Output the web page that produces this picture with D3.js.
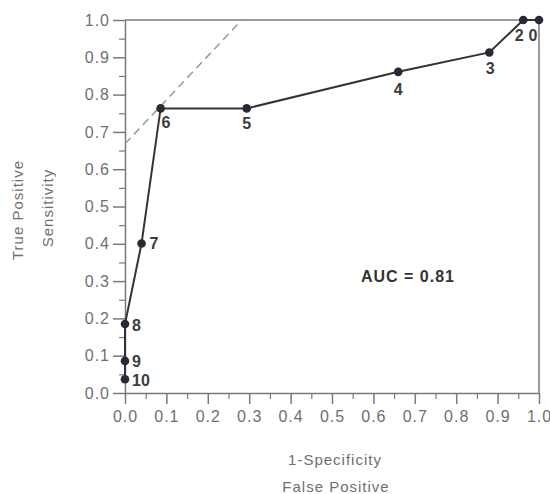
<!DOCTYPE html>
<html><head><meta charset="utf-8">
<script src="https://cdn.jsdelivr.net/npm/d3@7"></script>
<style>body{margin:0;background:#fff}svg{display:block}</style>
</head><body>
<script>
const fpr = [0, 0, 0, 0.04, 0.086, 0.294, 0.66, 0.88, 0.962, 1.0];
const tpr = [0.037, 0.086, 0.185, 0.401, 0.763, 0.763, 0.861, 0.913, 1.0, 1.0];
const pointLabels = ["10", "9", "8", "7", "6", "5", "4", "3", "2", "0"];
const tickValues = [0, 0.1, 0.2, 0.3, 0.4, 0.5, 0.6, 0.7, 0.8, 0.9, 1.0];
const minorTicks = [0.05, 0.15, 0.25, 0.35, 0.45, 0.55, 0.65, 0.75, 0.85, 0.95];
const tangent = [[0, 0.668], [0.282, 1.0]];
const aucText = "AUC = 0.81";

const W = 550, H = 494;
const svg = d3.select("body").append("svg").attr("width", W).attr("height", H);
const x = d3.scaleLinear().domain([0, 1]).range([125, 539]);
const y = d3.scaleLinear().domain([0, 1]).range([393, 20]);
const axisCol = "#7a7a7a", textCol = "#6f6f6f";
const tf = "Liberation Sans, Arial, sans-serif";

// frame top/right
svg.append("line").attr("x1", x(0)).attr("x2", x(1)).attr("y1", y(1)).attr("y2", y(1)).attr("stroke", axisCol).attr("stroke-width", 1.5);
svg.append("line").attr("x1", x(1)).attr("x2", x(1)).attr("y1", y(1)).attr("y2", y(0)).attr("stroke", axisCol).attr("stroke-width", 1.5);

function styleAxis(g) {
  g.select(".domain").attr("stroke", axisCol).attr("stroke-width", 1.5);
  g.selectAll(".tick line").attr("stroke", axisCol).attr("stroke-width", 1.5);
  g.selectAll(".tick text").attr("fill", textCol).style("font-family", tf).style("font-size", "16px").style("letter-spacing", "1px");
}

// x axis
const gx = svg.append("g").attr("transform", `translate(0,${y(0)})`)
  .call(d3.axisBottom(x).tickValues(tickValues).tickFormat(d3.format(".1f")).tickSize(11).tickPadding(7).tickSizeOuter(0));
styleAxis(gx);
svg.append("g").attr("transform", `translate(0,${y(0)})`)
  .call(d3.axisBottom(x).tickValues(minorTicks).tickFormat("").tickSize(6).tickSizeOuter(0))
  .call(g => { g.select(".domain").remove(); g.selectAll("line").attr("stroke", axisCol).attr("stroke-width", 1.2); });

// y axis
const gy = svg.append("g").attr("transform", `translate(${x(0)},0)`)
  .call(d3.axisLeft(y).tickValues(tickValues).tickFormat(d3.format(".1f")).tickSize(12).tickPadding(3).tickSizeOuter(0));
styleAxis(gy);
svg.append("g").attr("transform", `translate(${x(0)},0)`)
  .call(d3.axisLeft(y).tickValues(minorTicks).tickFormat("").tickSize(6).tickSizeOuter(0))
  .call(g => { g.select(".domain").remove(); g.selectAll("line").attr("stroke", axisCol).attr("stroke-width", 1.2); });

// tangent dashed line
svg.append("line").attr("x1", x(tangent[0][0])).attr("y1", y(tangent[0][1]))
  .attr("x2", x(tangent[1][0])).attr("y2", y(tangent[1][1]))
  .attr("stroke", "#9a9a9a").attr("stroke-width", 1.5).attr("stroke-dasharray", "8,5");

// curve
const data = fpr.map((d, i) => ({ x: d, y: tpr[i], label: pointLabels[i] }));
svg.append("path").datum(data)
  .attr("d", d3.line().x(d => x(d.x)).y(d => y(d.y)))
  .attr("fill", "none").attr("stroke", "#333").attr("stroke-width", 2);

svg.selectAll("circle.pt").data(data).enter().append("circle")
  .attr("cx", d => x(d.x)).attr("cy", d => y(d.y)).attr("r", 4.3).attr("fill", "#262a35");

// label offsets [dx, dy, anchor]
const offs = {
  "10": [7, 1, "start"], "9": [7, 0, "start"], "8": [7, 1, "start"], "7": [8, 0, "start"],
  "6": [1, 14, "start"], "5": [0, 15, "middle"], "4": [0, 17, "middle"], "3": [1, 16, "middle"],
  "2": [-4, 15, "middle"], "0": [-6, 15, "middle"]
};
svg.selectAll("text.pl").data(data).enter().append("text")
  .attr("x", d => x(d.x) + offs[d.label][0]).attr("y", d => y(d.y) + offs[d.label][1])
  .attr("dy", "0.36em").attr("text-anchor", d => offs[d.label][2])
  .attr("fill", "#3a3d44").style("font-family", tf)
  .style("font-size", "16px").style("font-weight", "bold").text(d => d.label);

// AUC
svg.append("text").attr("x", 408).attr("y", 276).attr("dy", "0.36em").attr("text-anchor", "middle")
  .attr("fill", "#333").style("font-family", tf).style("letter-spacing", "1px")
  .style("font-size", "16px").style("font-weight", "bold").text(aucText);

// axis titles
function title(sel) {
  return sel.attr("text-anchor", "middle").attr("dy", "0.36em").attr("fill", textCol)
    .style("font-family", tf).style("font-size", "15px").style("letter-spacing", "1px");
}
title(svg.append("text").attr("transform", "translate(18,210) rotate(-90)")).text("True Positive");
title(svg.append("text").attr("transform", "translate(48,208) rotate(-90)")).text("Sensitivity");
title(svg.append("text").attr("x", 335).attr("y", 460)).text("1-Specificity");
title(svg.append("text").attr("x", 336).attr("y", 487)).text("False Positive");
</script>
</body></html>
